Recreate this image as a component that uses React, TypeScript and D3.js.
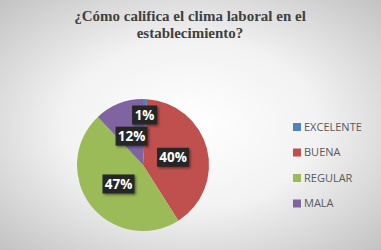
import { useEffect, useRef } from "react"
import * as d3 from "d3"

const categories = ["EXCELENTE", "BUENA", "REGULAR", "MALA"]
const values = [1, 40, 47, 12]
const colors = ["#4f81bd", "#c0504d", "#9bbb59", "#8064a2"]
const titleLines = ["¿Cómo califica el clima laboral en el", "establecimiento?"]

export default function App() {
  const svgRef = useRef<SVGSVGElement>(null)

  useEffect(() => {
    if (!svgRef.current) return
    const svg = d3.select(svgRef.current)
    svg.selectAll("*").remove()

    const width = 381
    const height = 250

    // background radial gradient (light centre, grey edges)
    const defs = svg.append("defs")
    const grad = defs.append("radialGradient")
      .attr("id", "bg-grad")
      .attr("cx", "50%").attr("cy", "50%").attr("r", "75%")
    grad.append("stop").attr("offset", "0%").attr("stop-color", "#ffffff")
    grad.append("stop").attr("offset", "45%").attr("stop-color", "#f2f2f2")
    grad.append("stop").attr("offset", "100%").attr("stop-color", "#bdbdbd")

    const shadow = defs.append("filter").attr("id", "lbl-shadow")
      .attr("x", "-20%").attr("y", "-20%").attr("width", "150%").attr("height", "160%")
    shadow.append("feDropShadow")
      .attr("dx", 1.5).attr("dy", 1.5).attr("stdDeviation", 1)
      .attr("flood-color", "#000").attr("flood-opacity", 0.45)

    svg.append("rect")
      .attr("width", width).attr("height", height)
      .attr("fill", "url(#bg-grad)")

    // title
    svg.append("g")
      .selectAll("text")
      .data(titleLines)
      .enter()
      .append("text")
      .attr("x", 190)
      .attr("y", (_: string, i: number) => 21 + i * 17)
      .attr("text-anchor", "middle")
      .attr("font-family", "'Liberation Serif', 'Times New Roman', serif")
      .attr("font-weight", "bold")
      .attr("font-size", 15)
      .attr("fill", "#404040")
      .text((d: string) => d)

    // pie
    const cx = 143
    const cy = 165
    const radius = 66
    const pie = d3.pie<number>().sort(null).value((d: number) => d)
    const arcs = pie(values)
    const arc = d3.arc<d3.PieArcDatum<number>>().innerRadius(0).outerRadius(radius)

    const g = svg.append("g").attr("transform", `translate(${cx},${cy})`)
    g.selectAll("path")
      .data(arcs)
      .enter()
      .append("path")
      .attr("d", arc as any)
      .attr("fill", (_: any, i: number) => colors[i])

    // data labels (dark boxes); the tiny slice is pushed outward
    const labelArc = d3.arc<d3.PieArcDatum<number>>().innerRadius(31).outerRadius(31)
    const smallArc = d3.arc<d3.PieArcDatum<number>>().innerRadius(50).outerRadius(50)

    const labels = g.selectAll("g.lbl")
      .data(arcs)
      .enter()
      .append("g")
      .attr("class", "lbl")
      .attr("transform", (d: any) => {
        const p = d.data < 5 ? smallArc.centroid(d) : labelArc.centroid(d)
        return `translate(${p[0]},${p[1]})`
      })

    labels.append("rect")
      .attr("x", (d: any) => (String(d.data).length > 1 ? -16 : -12.5))
      .attr("y", -9.5)
      .attr("width", (d: any) => (String(d.data).length > 1 ? 32 : 25))
      .attr("height", 19)
      .attr("fill", "#262626")
      .attr("filter", "url(#lbl-shadow)")

    labels.append("text")
      .attr("text-anchor", "middle")
      .attr("dy", "0.36em")
      .attr("font-family", "'Open Sans', 'DejaVu Sans', sans-serif")
      .attr("font-weight", "bold")
      .attr("font-size", 13.5)
      .attr("fill", "#ffffff")
      .text((d: any) => `${d.data}%`)

    // legend
    const legend = svg.append("g").attr("transform", "translate(293,127)")
    const rows = legend.selectAll("g")
      .data(categories)
      .enter()
      .append("g")
      .attr("transform", (_: string, i: number) => `translate(0,${i * 25.5})`)

    rows.append("rect")
      .attr("x", 0).attr("y", -4)
      .attr("width", 8).attr("height", 8)
      .attr("fill", (_: string, i: number) => colors[i])

    rows.append("text")
      .attr("x", 11)
      .attr("dy", "0.36em")
      .attr("font-family", "'Open Sans', 'DejaVu Sans', sans-serif")
      .attr("font-size", 11)
      .attr("fill", "#595959")
      .text((d: string) => d)
  }, [])

  return (
    <svg
      ref={svgRef}
      width={381}
      height={250}
      style={{ position: "absolute", left: 0, top: 0 }}
    />
  )
}
